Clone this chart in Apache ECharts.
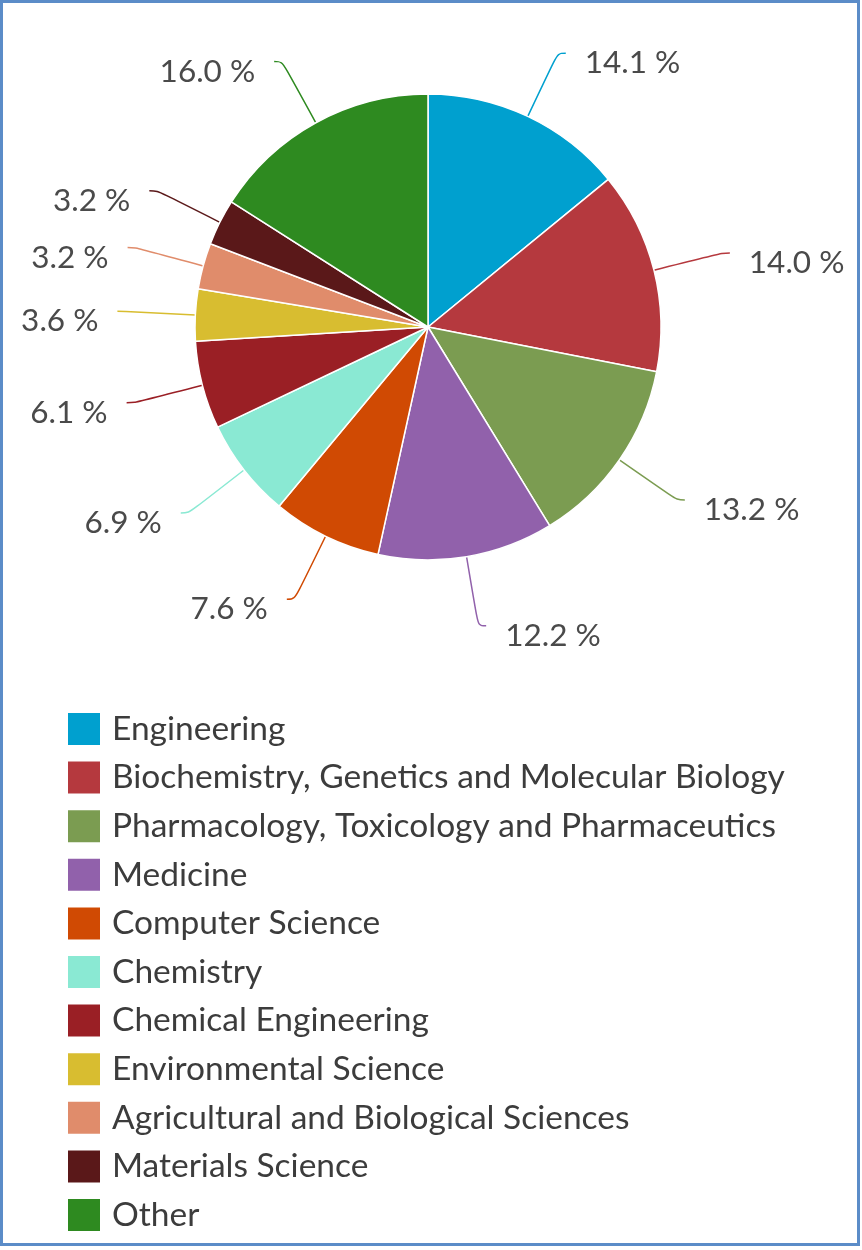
<!DOCTYPE html>
<html>
<head>
<meta charset="utf-8">
<script src="https://cdn.jsdelivr.net/npm/echarts@6/dist/echarts.min.js"></script>
<style>
html,body{margin:0;padding:0;background:#fff;}
#chart{width:862px;height:1250px;}
</style>
</head>
<body>
<div id="chart"></div>
<script>
const categories = [
  'Engineering',
  'Biochemistry, Genetics and Molecular Biology',
  'Pharmacology, Toxicology and Pharmaceutics',
  'Medicine',
  'Computer Science',
  'Chemistry',
  'Chemical Engineering',
  'Environmental Science',
  'Agricultural and Biological Sciences',
  'Materials Science',
  'Other'
];
const shares = [14.1, 14.0, 13.2, 12.2, 7.6, 6.9, 6.1, 3.6, 3.2, 3.2, 16.0];
const colors = ['#00a0cf', '#b5393e', '#7b9c51', '#9161ab', '#d04a03', '#8ae9d3', '#9a1f25', '#d8bd30', '#e08c6b', '#5a1819', '#2e8a20'];

const chart = echarts.init(document.getElementById('chart'), null, {renderer: 'canvas'});
const FONT = 'Lato';
chart.setOption({
  animation: false,
  color: colors,
  graphic: [{
    type: 'rect',
    shape: {x: 1.5, y: 1.5, width: 857, height: 1243},
    style: {fill: 'none', stroke: '#5b8cc8', lineWidth: 3},
    silent: true
  }],
  legend: {
    orient: 'vertical',
    left: 66,
    top: 711,
    height: 540,
    padding: 0,
    itemWidth: 34,
    itemHeight: 34,
    itemGap: 12.6,
    icon: 'rect',
    textStyle: {fontFamily: FONT, fontSize: 33.5, color: '#3c3c3c', padding: [0, 0, 0, 6]},
    data: categories
  },
  series: [{
    type: 'pie',
    center: [428, 327],
    radius: [0, 233],
    startAngle: 90,
    clockwise: true,
    avoidLabelOverlap: true,
    itemStyle: {borderColor: '#fff', borderWidth: 1.5},
    label: {
      show: true,
      distanceToLabelLine: 19,
      formatter: p => '{v|' + p.value.toFixed(1) + ' %}',
      rich: {
        v: {
          fontFamily: FONT,
          fontSize: 31.5,
          color: '#4a4a4a',
          padding: [20, 0, 0, 0]
        }
      }
    },
    labelLine: {
      show: true,
      length: 70,
      length2: 8,
      smooth: 0.4,
      lineStyle: {width: 1.5}
    },
    data: categories.map((c, i) => ({name: c, value: shares[i]}))
  }]
});
</script>
</body>
</html>
